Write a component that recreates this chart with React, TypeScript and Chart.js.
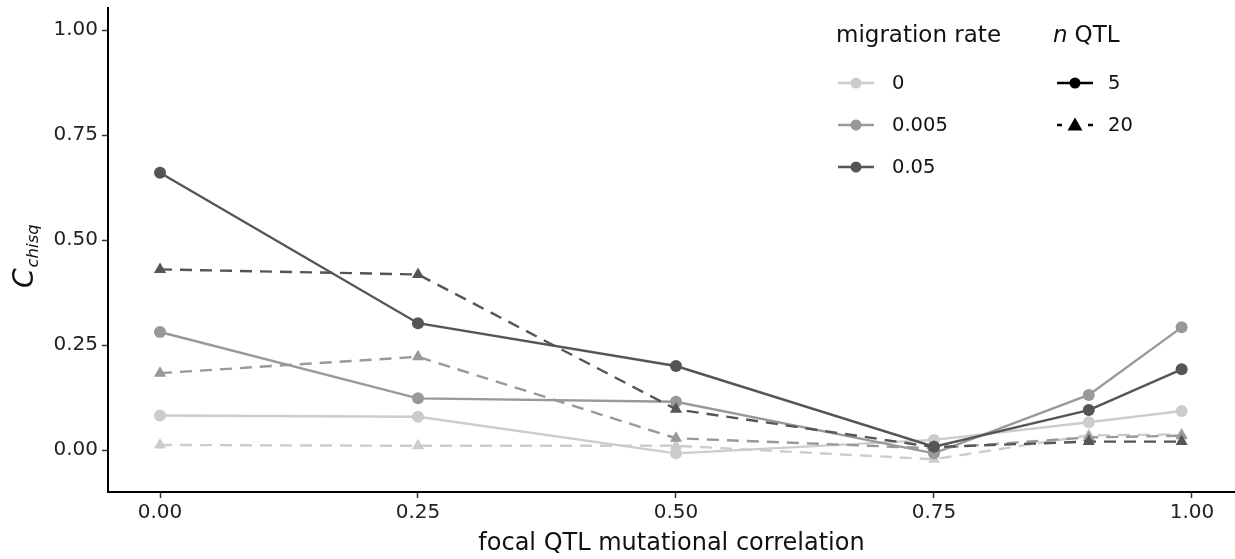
import React, { useEffect, useRef } from "react";
import { Chart, registerables } from "chart.js";

Chart.register(...registerables);

const X_VALUES = [0, 0.25, 0.5, 0.75, 0.9, 0.99];
const X_TICKS = [0, 0.25, 0.5, 0.75, 1.0];
const Y_TICKS = [0, 0.25, 0.5, 0.75, 1.0];

const MIG_0_Q5 = [0.082, 0.079, -0.008, 0.024, 0.066, 0.093];
const MIG_0_Q20 = [0.012, 0.010, 0.010, -0.022, 0.035, 0.037];
const MIG_005_Q5 = [0.281, 0.123, 0.115, -0.008, 0.131, 0.292];
const MIG_005_Q20 = [0.183, 0.222, 0.028, 0.004, 0.030, 0.034];
const MIG_05_Q5 = [0.660, 0.302, 0.200, 0.008, 0.095, 0.192];
const MIG_05_Q20 = [0.430, 0.418, 0.097, 0.007, 0.020, 0.020];

const MIGRATION_LABELS = ["0", "0.005", "0.05"];
const MIGRATION_COLORS = ["#CCCCCC", "#999999", "#555555"];
const QTL_LABELS = ["5", "20"];

const FONT = "DejaVu Sans";
const DASH = [12, 8];

function toPoints(ys: number[]) {
  return X_VALUES.map((x, i) => ({ x, y: ys[i] }));
}

function makeDataset(label: string, ys: number[], color: string, dashed: boolean) {
  return {
    label,
    data: toPoints(ys),
    borderColor: color,
    backgroundColor: color,
    pointBackgroundColor: color,
    pointBorderColor: color,
    borderWidth: 2.4,
    borderDash: dashed ? DASH : [],
    pointStyle: dashed ? "triangle" : "circle",
    pointRadius: dashed ? 7 : 6,
    pointBorderWidth: 0,
    tension: 0,
    fill: false,
  };
}

const legendPlugin = {
  id: "customLegend",
  afterDraw(chart: any) {
    const ctx = chart.ctx;
    ctx.save();
    ctx.fillStyle = "#111";
    ctx.textBaseline = "middle";
    ctx.textAlign = "left";
    // migration rate
    ctx.font = `23px "${FONT}"`;
    ctx.fillText("migration rate", 836, 36);
    const rows = [83, 125, 167];
    MIGRATION_LABELS.forEach((lab, i) => {
      const y = rows[i];
      ctx.strokeStyle = MIGRATION_COLORS[i];
      ctx.lineWidth = 2.4;
      ctx.setLineDash([]);
      ctx.beginPath();
      ctx.moveTo(838, y);
      ctx.lineTo(874, y);
      ctx.stroke();
      ctx.fillStyle = MIGRATION_COLORS[i];
      ctx.beginPath();
      ctx.arc(856, y, 5.5, 0, Math.PI * 2);
      ctx.fill();
      ctx.fillStyle = "#111";
      ctx.font = `19.5px "${FONT}"`;
      ctx.fillText(lab, 892, y + 1);
    });
    // n QTL
    ctx.font = `italic 23px "${FONT}"`;
    ctx.fillText("n", 1053, 36);
    const nw = ctx.measureText("n").width + 7;
    ctx.font = `23px "${FONT}"`;
    ctx.fillText("QTL", 1053 + nw, 36);
    QTL_LABELS.forEach((lab, i) => {
      const y = rows[i];
      ctx.strokeStyle = "#000";
      ctx.fillStyle = "#000";
      ctx.lineWidth = 2.4;
      if (i === 0) {
        ctx.beginPath();
        ctx.moveTo(1057, y);
        ctx.lineTo(1093, y);
        ctx.stroke();
        ctx.beginPath();
        ctx.arc(1075, y, 5.5, 0, Math.PI * 2);
        ctx.fill();
      } else {
        ctx.beginPath();
        ctx.moveTo(1057, y);
        ctx.lineTo(1062, y);
        ctx.moveTo(1088, y);
        ctx.lineTo(1093, y);
        ctx.stroke();
        ctx.beginPath();
        ctx.moveTo(1075, y - 7.5);
        ctx.lineTo(1082.5, y + 5.5);
        ctx.lineTo(1067.5, y + 5.5);
        ctx.closePath();
        ctx.fill();
      }
      ctx.fillStyle = "#111";
      ctx.font = `19.5px "${FONT}"`;
      ctx.fillText(lab, 1108, y + 1);
    });
    // y-axis title
    ctx.translate(33, 288);
    ctx.rotate(-Math.PI / 2);
    ctx.textBaseline = "alphabetic";
    ctx.font = `italic 28px "${FONT}"`;
    ctx.fillText("C", 0, 0);
    const cw = ctx.measureText("C").width;
    ctx.font = `italic 16.5px "${FONT}"`;
    ctx.fillText("chisq", cw + 1, 5);
    ctx.restore();
  },
};

export default function App() {
  const ref = useRef<HTMLCanvasElement | null>(null);
  useEffect(() => {
    if (!ref.current) return;
    const datasets = [
      makeDataset("0.05 / 5", MIG_05_Q5, MIGRATION_COLORS[2], false),
      makeDataset("0.05 / 20", MIG_05_Q20, MIGRATION_COLORS[2], true),
      makeDataset("0.005 / 5", MIG_005_Q5, MIGRATION_COLORS[1], false),
      makeDataset("0.005 / 20", MIG_005_Q20, MIGRATION_COLORS[1], true),
      makeDataset("0 / 5", MIG_0_Q5, MIGRATION_COLORS[0], false),
      makeDataset("0 / 20", MIG_0_Q20, MIGRATION_COLORS[0], true),
    ];
    const chart = new Chart(ref.current, {
      type: "line",
      data: { datasets } as any,
      options: {
        animation: false,
        responsive: false,
        devicePixelRatio: 1,
        layout: { autoPadding: false, padding: { top: 8, left: 0, right: 0, bottom: 0 } },
        plugins: { legend: { display: false }, tooltip: { enabled: false } },
        scales: {
          x: {
            type: "linear",
            min: -0.0504,
            max: 1.0417,
            afterBuildTicks: (ax: any) => {
              ax.ticks = X_TICKS.map((v) => ({ value: v }));
            },
            afterFit: (s: any) => {
              s.height = 67;
              s.paddingLeft = 0;
              s.paddingRight = 0;
            },
            ticks: {
              callback: (v: any) => Number(v).toFixed(2),
              color: "#222",
              font: { family: FONT, size: 20 },
              padding: 3,
              maxRotation: 0,
              autoSkip: false,
            },
            grid: { drawOnChartArea: false, drawTicks: true, tickLength: 6, color: "#333", tickWidth: 1.5 },
            border: { display: true, color: "#000", width: 2 },
            title: {
              display: true,
              text: "focal QTL mutational correlation",
              color: "#111",
              font: { family: FONT, size: 24 },
              padding: { top: 0, bottom: 1 },
            },
          },
          y: {
            type: "linear",
            min: -0.1,
            max: 1.0524,
            afterBuildTicks: (ax: any) => {
              ax.ticks = Y_TICKS.map((v) => ({ value: v }));
            },
            afterFit: (s: any) => {
              s.width = 108;
              s.paddingTop = 0;
              s.paddingBottom = 0;
            },
            ticks: {
              callback: (v: any) => Number(v).toFixed(2),
              color: "#222",
              font: { family: FONT, size: 20 },
              padding: 4,
              autoSkip: false,
            },
            grid: { drawOnChartArea: false, drawTicks: true, tickLength: 6, color: "#333", tickWidth: 1.5 },
            border: { display: true, color: "#000", width: 2 },
          },
        },
      },
      plugins: [legendPlugin],
    } as any);
    return () => chart.destroy();
  }, []);
  return (
    <div style={{ position: "fixed", left: 0, top: 0, width: 1235, height: 559, background: "#fff" }}>
      <canvas ref={ref} width={1235} height={559} style={{ display: "block", width: 1235, height: 559 }} />
    </div>
  );
}
